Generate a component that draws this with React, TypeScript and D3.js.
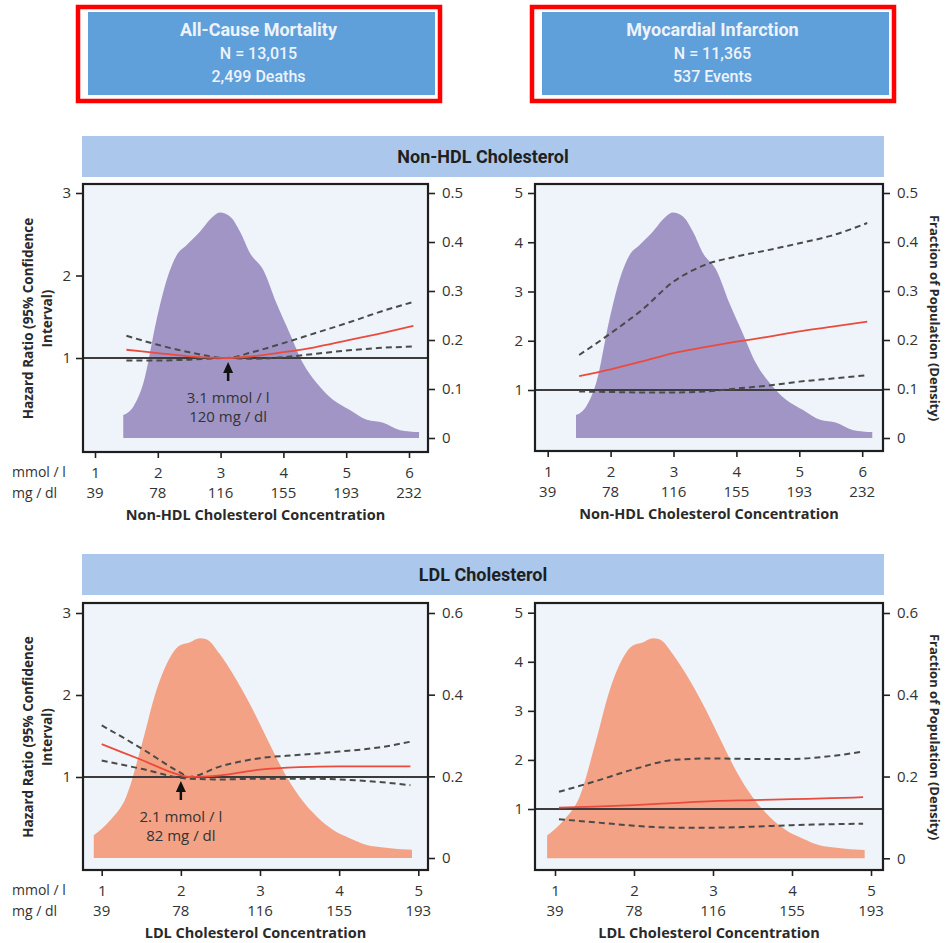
import React, { useEffect, useRef } from 'react';
import * as d3 from 'd3';

const W = 951;
const H = 943;
const FONT = "'Open Sans', 'Noto Sans', sans-serif";
const HEAD_FONT = "Roboto, 'Noto Sans', sans-serif";

// outcome boxes
const outcomeTitles = ['All-Cause Mortality', 'Myocardial Infarction'];
const outcomeN = ['N = 13,015', 'N = 11,365'];
const outcomeEvents = ['2,499 Deaths', '537 Events'];
const sectionTitles = ['Non-HDL Cholesterol', 'LDL Cholesterol'];

// population density (fraction)
const nonHdlDensityX = [1.45, 1.61, 1.77, 1.98, 2.14, 2.3, 2.46, 2.67, 2.88, 2.99, 3.15, 3.31, 3.47, 3.68, 3.89, 4.1, 4.31, 4.53, 4.79, 5.06, 5.33, 5.59, 5.86, 6.16];
const nonHdlDensity = [0.047, 0.064, 0.112, 0.241, 0.322, 0.373, 0.394, 0.421, 0.452, 0.46, 0.452, 0.421, 0.377, 0.343, 0.275, 0.214, 0.153, 0.112, 0.078, 0.057, 0.037, 0.031, 0.016, 0.012];
const ldlDensityX = [0.9, 1.11, 1.31, 1.52, 1.69, 1.82, 1.98, 2.11, 2.24, 2.32, 2.49, 2.66, 2.87, 3.08, 3.29, 3.5, 3.72, 3.93, 4.14, 4.35, 4.56, 4.92];
const ldlDensity = [0.056, 0.093, 0.15, 0.288, 0.41, 0.475, 0.52, 0.528, 0.538, 0.536, 0.5, 0.45, 0.378, 0.296, 0.215, 0.15, 0.101, 0.068, 0.048, 0.032, 0.026, 0.02];

// hazard ratios with 95% CI
const acmNonHdlX = [1.5, 2.0, 2.5, 3.1, 3.5, 4.0, 4.5, 5.0, 5.5, 6.07];
const acmNonHdlHR = [1.1, 1.06, 1.02, 1.0, 1.02, 1.07, 1.13, 1.21, 1.29, 1.39];
const acmNonHdlHi = [1.27, 1.16, 1.07, 1.0, 1.07, 1.18, 1.3, 1.42, 1.55, 1.68];
const acmNonHdlLo = [0.97, 0.97, 0.98, 1.0, 0.99, 1.01, 1.05, 1.09, 1.12, 1.14];

const miNonHdlX = [1.5, 2.0, 2.5, 3.0, 3.5, 4.0, 4.5, 5.0, 5.5, 6.08];
const miNonHdlHR = [1.28, 1.42, 1.58, 1.75, 1.87, 1.98, 2.08, 2.19, 2.28, 2.39];
const miNonHdlHi = [1.71, 2.15, 2.63, 3.2, 3.54, 3.71, 3.84, 3.98, 4.13, 4.39];
const miNonHdlLo = [0.97, 0.96, 0.95, 0.95, 0.97, 1.03, 1.09, 1.17, 1.23, 1.3];

const acmLdlX = [1.0, 1.5, 2.0, 2.1, 2.5, 3.0, 3.5, 4.0, 4.5, 4.9];
const acmLdlHR = [1.4, 1.21, 1.02, 1.0, 1.02, 1.09, 1.12, 1.13, 1.13, 1.13];
const acmLdlHi = [1.63, 1.35, 1.05, 1.0, 1.13, 1.23, 1.27, 1.31, 1.36, 1.43];
const acmLdlLo = [1.2, 1.1, 0.99, 0.98, 0.97, 0.98, 0.98, 0.97, 0.94, 0.9];

const miLdlX = [1.05, 1.5, 2.0, 2.5, 3.0, 3.5, 4.0, 4.5, 4.9];
const miLdlHR = [1.03, 1.05, 1.08, 1.12, 1.16, 1.18, 1.2, 1.22, 1.24];
const miLdlHi = [1.35, 1.56, 1.81, 2.0, 2.03, 2.02, 2.02, 2.08, 2.17];
const miLdlLo = [0.79, 0.73, 0.66, 0.62, 0.62, 0.64, 0.67, 0.69, 0.7];

// tick labels
const nonHdlMmolTicks = [1, 2, 3, 4, 5, 6];
const nonHdlMgTicks = ['39', '78', '116', '155', '193', '232'];
const ldlMmolTicks = [1, 2, 3, 4, 5];
const ldlMgTicks = ['39', '78', '116', '155', '193'];
const nonHdlDensTicks = [0, 0.1, 0.2, 0.3, 0.4, 0.5];
const ldlDensTicks = [0, 0.2, 0.4, 0.6];
const acmHrTicks = [1, 2, 3];
const miHrTicks = [1, 2, 3, 4, 5];

const panels = [
  {
    box: [83, 184, 428, 452], xPx: [95, 409], hrPx: [358, 193], densPx: [438, 193],
    mmol: nonHdlMmolTicks, mg: nonHdlMgTicks, hrTicks: acmHrTicks, densTicks: nonHdlDensTicks,
    densX: nonHdlDensityX, dens: nonHdlDensity, fill: '#a195c5',
    x: acmNonHdlX, hr: acmNonHdlHR, hi: acmNonHdlHi, lo: acmNonHdlLo,
    title: 'Non-HDL Cholesterol Concentration', left: true,
    arrow: { at: 3.12, text: ['3.1 mmol / l', '120 mg / dl'] },
  },
  {
    box: [535, 184, 883, 451], xPx: [547.7, 862.2], hrPx: [390, 193], densPx: [438, 193],
    mmol: nonHdlMmolTicks, mg: nonHdlMgTicks, hrTicks: miHrTicks, densTicks: nonHdlDensTicks,
    densX: nonHdlDensityX, dens: nonHdlDensity, fill: '#a195c5',
    x: miNonHdlX, hr: miNonHdlHR, hi: miNonHdlHi, lo: miNonHdlLo,
    title: 'Non-HDL Cholesterol Concentration', left: false,
  },
  {
    box: [83, 603, 428, 870], xPx: [101.7, 418.3], hrPx: [777, 613], densPx: [858, 613],
    mmol: ldlMmolTicks, mg: ldlMgTicks, hrTicks: acmHrTicks, densTicks: ldlDensTicks,
    densX: ldlDensityX, dens: ldlDensity, fill: '#f4a285',
    x: acmLdlX, hr: acmLdlHR, hi: acmLdlHi, lo: acmLdlLo,
    title: 'LDL Cholesterol Concentration', left: true,
    arrow: { at: 2.0, text: ['2.1 mmol / l', '82 mg / dl'] },
  },
  {
    box: [535, 603, 883, 870], xPx: [555, 871], hrPx: [809, 612.7], densPx: [858.3, 613],
    mmol: ldlMmolTicks, mg: ldlMgTicks, hrTicks: miHrTicks, densTicks: ldlDensTicks,
    densX: ldlDensityX, dens: ldlDensity, fill: '#f4a285',
    x: miLdlX, hr: miLdlHR, hi: miLdlHi, lo: miLdlLo,
    title: 'LDL Cholesterol Concentration', left: false,
  },
];

export default function App() {
  const svgRef = useRef<SVGSVGElement>(null);

  useEffect(() => {
    document.body.style.margin = '0';
    const svg = d3.select(svgRef.current);
    svg.selectAll('*').remove();
    svg.append('rect').attr('width', W).attr('height', H).attr('fill', '#fff');

    // outcome header boxes
    [88, 542].forEach((bx, i) => {
      const g = svg.append('g');
      g.append('rect').attr('x', bx).attr('y', 12).attr('width', 347).attr('height', 83).attr('fill', '#5fa0da');
      const cx = bx + 347 / 2 - 3;
      const lines = [outcomeTitles[i], outcomeN[i], outcomeEvents[i]];
      lines.forEach((t, j) => {
        g.append('text').attr('x', cx).attr('y', 30 + j * 23).attr('dy', '0.35em')
          .attr('text-anchor', 'middle').attr('font-family', HEAD_FONT)
          .attr('font-size', j === 0 ? 18 : 16).attr('font-weight', j === 0 ? 700 : 500)
          .attr('fill', '#eef3fb').text(t);
      });
      g.append('rect').attr('x', bx - 10).attr('y', 7).attr('width', 362).attr('height', 94)
        .attr('fill', 'none').attr('stroke', '#ff0000').attr('stroke-width', 4.5);
    });

    // section bars
    [136, 554].forEach((by, i) => {
      svg.append('rect').attr('x', 82).attr('y', by).attr('width', 802).attr('height', 41).attr('fill', '#abc8ec');
      svg.append('text').attr('x', 483).attr('y', by + 20.5).attr('dy', '0.35em')
        .attr('text-anchor', 'middle').attr('font-family', HEAD_FONT).attr('font-size', 18)
        .attr('font-weight', 700).attr('fill', '#1f1f1f').text(sectionTitles[i]);
    });

    panels.forEach((p) => {
      const [x0, y0, x1, y1] = p.box;
      const x = d3.scaleLinear().domain([p.mmol[0], p.mmol[p.mmol.length - 1]]).range(p.xPx);
      const hr = d3.scaleLinear().domain([1, p.hrTicks[p.hrTicks.length - 1]]).range(p.hrPx);
      const dens = d3.scaleLinear().domain([0, p.densTicks[p.densTicks.length - 1]]).range(p.densPx);
      const g = svg.append('g');

      g.append('rect').attr('x', x0).attr('y', y0).attr('width', x1 - x0).attr('height', y1 - y0).attr('fill', '#eef4fa');

      const area = d3.area<number>()
        .x((d, i) => x(p.densX[i]))
        .y0(dens(0))
        .y1((d) => dens(d))
        .curve(d3.curveMonotoneX);
      g.append('path').attr('d', area(p.dens)).attr('fill', p.fill);

      g.append('line').attr('x1', x0).attr('x2', x1).attr('y1', hr(1)).attr('y2', hr(1))
        .attr('stroke', '#3c3c3c').attr('stroke-width', 2);

      const line = d3.line<number>()
        .x((d, i) => x(p.x[i]))
        .y((d) => hr(d))
        .curve(d3.curveMonotoneX);
      [p.hi, p.lo].forEach((s) => {
        g.append('path').attr('d', line(s)).attr('fill', 'none').attr('stroke', '#4a4a4a')
          .attr('stroke-width', 2).attr('stroke-dasharray', '6,4');
      });
      g.append('path').attr('d', line(p.hr)).attr('fill', 'none').attr('stroke', '#eb4b3c').attr('stroke-width', 1.8);

      g.append('rect').attr('x', x0).attr('y', y0).attr('width', x1 - x0).attr('height', y1 - y0)
        .attr('fill', 'none').attr('stroke', '#1e1e1e').attr('stroke-width', 2.2);

      // axes
      const styleAxis = (sel: any) => {
        sel.select('.domain').remove();
        sel.selectAll('line').attr('stroke', '#222').attr('stroke-width', 1.6);
        sel.selectAll('text').attr('font-family', FONT).attr('font-size', 15).attr('fill', '#333');
      };
      g.append('g').attr('transform', `translate(${x0},0)`)
        .call(d3.axisLeft(hr).tickValues(p.hrTicks).tickSize(7).tickPadding(5).tickFormat(d3.format('d')))
        .call(styleAxis);
      g.append('g').attr('transform', `translate(${x1},0)`)
        .call(d3.axisRight(dens).tickValues(p.densTicks).tickSize(7).tickPadding(7)
          .tickFormat((d: any) => (d === 0 ? '0' : d3.format('.1f')(d))))
        .call(styleAxis);
      g.append('g').attr('transform', `translate(0,${y1 + 1})`)
        .call(d3.axisBottom(x).tickValues(p.mmol).tickSize(5).tickPadding(9).tickFormat(d3.format('d')))
        .call(styleAxis);

      p.mg.forEach((t, i) => {
        g.append('text').attr('x', x(p.mmol[i])).attr('y', y1 + 41).attr('dy', '0.35em')
          .attr('text-anchor', 'middle').attr('font-family', FONT).attr('font-size', 15)
          .attr('fill', '#333').text(t);
      });
      g.append('text').attr('x', (x0 + x1) / 2).attr('y', y1 + 63).attr('dy', '0.35em')
        .attr('text-anchor', 'middle').attr('font-family', FONT).attr('font-size', 14.5)
        .attr('font-weight', 700).attr('fill', '#2a2a2a').text(p.title);

      const midY = (y0 + y1) / 2 + 0.5;
      if (p.left) {
        g.append('text').attr('x', 12).attr('y', y1 + 20).attr('dy', '0.35em')
          .attr('font-family', FONT).attr('font-size', 14).attr('fill', '#333').text('mmol / l');
        g.append('text').attr('x', 12).attr('y', y1 + 41).attr('dy', '0.35em')
          .attr('font-family', FONT).attr('font-size', 14).attr('fill', '#333').text('mg / dl');
        const t = g.append('text').attr('transform', `translate(28,${midY}) rotate(-90)`)
          .attr('text-anchor', 'middle').attr('font-family', FONT).attr('font-size', 13.5)
          .attr('font-weight', 700).attr('fill', '#2a2a2a');
        t.append('tspan').attr('x', 0).attr('dy', '0.35em').text('Hazard Ratio (95% Confidence');
        t.append('tspan').attr('x', 0).attr('dy', '1.4em').text('Interval)');
      } else {
        g.append('text').attr('transform', `translate(935,${midY}) rotate(90)`)
          .attr('text-anchor', 'middle').attr('dy', '0.35em').attr('font-family', FONT)
          .attr('font-size', 13).attr('font-weight', 700).attr('fill', '#2a2a2a')
          .text('Fraction of Population (Density)');
      }

      if (p.arrow) {
        const ax = x(p.arrow.at);
        const base = hr(1);
        g.append('line').attr('x1', ax).attr('x2', ax).attr('y1', base + 12).attr('y2', base + 23)
          .attr('stroke', '#111').attr('stroke-width', 2.5);
        g.append('path').attr('d', `M${ax},${base + 4}L${ax - 5},${base + 15}L${ax + 5},${base + 15}Z`).attr('fill', '#111');
        p.arrow.text.forEach((t, j) => {
          g.append('text').attr('x', ax).attr('y', base + 40 + j * 19).attr('dy', '0.35em')
            .attr('text-anchor', 'middle').attr('font-family', FONT).attr('font-size', 15)
            .attr('fill', '#333').text(t);
        });
      }
    });
  }, []);

  return <svg ref={svgRef} width={W} height={H} style={{ display: 'block' }} />;
}
